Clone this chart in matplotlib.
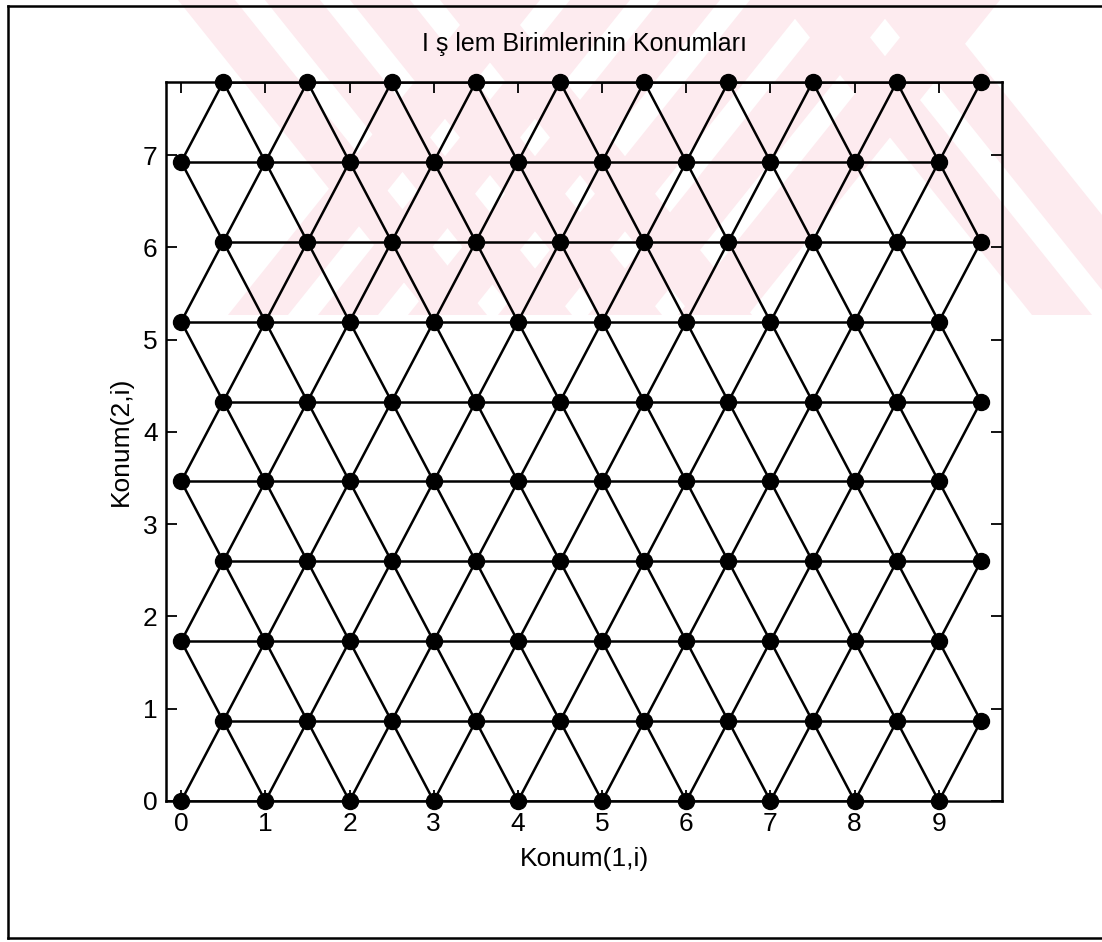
import numpy as np
import matplotlib
matplotlib.use("Agg")
import matplotlib.pyplot as plt
from matplotlib.patches import Polygon
from matplotlib.collections import LineCollection

plt.rcParams['font.family'] = ['Liberation Sans', 'DejaVu Sans']

# node rows of the triangular grid
row_y = [0.0, 0.866, 1.732, 2.598, 3.464, 4.330, 5.196, 6.062, 6.928, 7.794]
even_x = [0, 1, 2, 3, 4, 5, 6, 7, 8, 9]
odd_x = [0.5, 1.5, 2.5, 3.5, 4.5, 5.5, 6.5, 7.5, 8.5, 9.5]

x_ticks = [0, 1, 2, 3, 4, 5, 6, 7, 8, 9]
y_ticks = [0, 1, 2, 3, 4, 5, 6, 7]

title = "I ş lem Birimlerinin Konumları"
x_label = "Konum(1,i)"
y_label = "Konum(2,i)"

W, H = 1102, 942
fig = plt.figure(figsize=(W / 100, H / 100), dpi=100)

# faint pink stamp behind the top part of the page
pink = '#fdebef'
stamp_bottom = 315
bands_back = [(178, 235), (265, 320), (350, 410), (440, 500), (780, 840), (870, 930)]  # "\" bands, x at top
bands_fwd = [(480, 540), (570, 630), (660, 720), (750, 810), (840, 900), (930, 1000)]  # "/" bands
d = 0.8 * stamp_bottom
for x0, x1 in bands_back:
    pts = [(x0, 0), (x1, 0), (x1 + d, stamp_bottom), (x0 + d, stamp_bottom)]
    fig.patches.append(Polygon([(px / W, 1 - py / H) for px, py in pts],
                               closed=True, transform=fig.transFigure,
                               facecolor=pink, edgecolor='none', zorder=-5))
for x0, x1 in bands_fwd:
    pts = [(x0, 0), (x1, 0), (x1 - d, stamp_bottom), (x0 - d, stamp_bottom)]
    fig.patches.append(Polygon([(px / W, 1 - py / H) for px, py in pts],
                               closed=True, transform=fig.transFigure,
                               facecolor=pink, edgecolor='none', zorder=-5))

# page frame (left, top, bottom)
fig.add_artist(plt.Line2D([8 / W, 8 / W], [1 - 938 / H, 1 - 6 / H], color='black', lw=1.8))
fig.add_artist(plt.Line2D([8 / W, 1.0], [1 - 6 / H, 1 - 6 / H], color='black', lw=1.8))
fig.add_artist(plt.Line2D([8 / W, 1.0], [1 - 938 / H, 1 - 938 / H], color='black', lw=1.8))

ax = fig.add_axes([166 / W, 1 - 801 / H, (1002 - 166) / W, (801 - 82) / H])
ax.set_facecolor('none')

# build the node list
nodes = []
for k, y in enumerate(row_y):
    xs = even_x if k % 2 == 0 else odd_x
    for x in xs:
        nodes.append((x, y))
nodes = np.array(nodes)

# neighbours are the nodes one unit apart
segs = []
for i in range(len(nodes)):
    for j in range(i + 1, len(nodes)):
        if abs(np.hypot(*(nodes[i] - nodes[j])) - 1.0) < 0.01:
            segs.append([nodes[i], nodes[j]])
ax.add_collection(LineCollection(segs, colors='black', linewidths=1.8, zorder=2))
ax.plot(nodes[:, 0], nodes[:, 1], 'o', color='black', markersize=11.5, zorder=3, clip_on=False)

ax.set_xlim(-0.18, 9.75)
ax.set_ylim(0, 7.794)
ax.set_xticks(x_ticks)
ax.set_yticks(y_ticks)
ax.tick_params(direction='in', top=True, right=True, length=8, width=1.3,
               labelsize=19, color='black')
ax.tick_params(axis='x', pad=8)
ax.tick_params(axis='y', pad=6)
for s in ax.spines.values():
    s.set_linewidth(1.8)

ax.set_title(title, fontsize=18, pad=22)
ax.set_xlabel(x_label, fontsize=19, labelpad=8)
ax.set_ylabel(y_label, fontsize=19, labelpad=7)

fig.savefig("out.png", dpi=100)
